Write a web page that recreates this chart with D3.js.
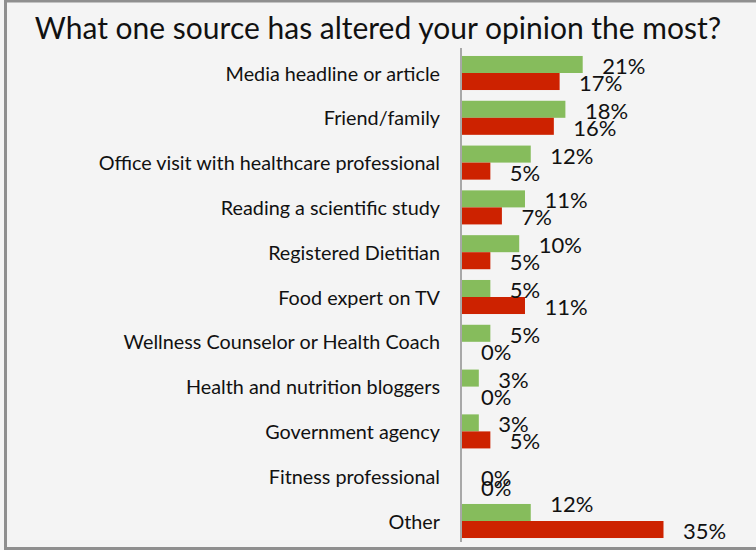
<!DOCTYPE html>
<html>
<head>
<meta charset="utf-8">
<script src="https://cdn.jsdelivr.net/npm/d3@7"></script>
<style>
  html, body { margin: 0; padding: 0; background: #f4f4f4; }
  svg { display: block; }
</style>
</head>
<body>
<svg id="chart" width="756" height="550"></svg>
<script>
// Survey answers: which source changed the respondent's opinion most
const categories = [
  "Media headline or article",
  "Friend/family",
  "Office visit with healthcare professional",
  "Reading a scientific study",
  "Registered Dietitian",
  "Food expert on TV",
  "Wellness Counselor or Health Coach",
  "Health and nutrition bloggers",
  "Government agency",
  "Fitness professional",
  "Other"
];
const seriesNames = ["green", "red"];
const greenValues = [21, 18, 12, 11, 10, 5, 5, 3, 3, 0, 12];
const redValues   = [17, 16, 5, 7, 5, 11, 0, 0, 5, 0, 35];
const titleText = "What one source has altered your opinion the most?";

const colors = { green: "#86bc5c", red: "#cd2200" };
const font = "Lato, 'Open Sans', sans-serif";

const W = 756, H = 550;
const svg = d3.select("#chart");

svg.append("rect").attr("x", 0).attr("y", 0).attr("width", W).attr("height", H).attr("fill", "#f4f4f4");
// frame (open on the right side)
svg.append("rect")
  .attr("x", 5.5).attr("y", 1).attr("width", 800).attr("height", 547.5)
  .attr("fill", "#f4f4f4").attr("stroke", "#8f8f8f").attr("stroke-width", 3);

// title
svg.append("text")
  .attr("x", 378).attr("y", 38.5)
  .attr("text-anchor", "middle")
  .attr("font-family", font).attr("font-size", 30)
  .attr("fill", "#111")
  .text(titleText);

const x0 = 461.5;
const x = d3.scaleLinear().domain([0, 35]).range([x0, x0 + 202]);

const y = d3.scaleBand()
  .domain(categories)
  .range([50.6, 543.4])
  .paddingInner(0.24)
  .paddingOuter(0.12);

const ySub = d3.scaleBand().domain(seriesNames).range([0, y.bandwidth()]);

const rows = categories.map((c, i) => ({
  cat: c,
  vals: [
    { cat: c, key: "green", value: greenValues[i] },
    { cat: c, key: "red", value: redValues[i] }
  ]
}));

// hand-placed value labels that were moved off their default spot
const labelNudge = {
  "Fitness professional|green": 9,
  "Fitness professional|red": 2,
  "Other|green": -10
};

// category labels
svg.append("g").selectAll("text")
  .data(categories)
  .join("text")
  .attr("x", 440)
  .attr("y", d => y(d) + y.bandwidth() / 2 + 7.5)
  .attr("text-anchor", "end")
  .attr("font-family", font).attr("font-size", 19.8)
  .attr("fill", "#111")
  .text(d => d);

const groups = svg.append("g").selectAll("g")
  .data(rows)
  .join("g")
  .attr("transform", d => `translate(0,${y(d.cat)})`);

groups.selectAll("rect")
  .data(d => d.vals)
  .join("rect")
  .attr("x", x(0))
  .attr("y", d => ySub(d.key))
  .attr("width", d => x(d.value) - x(0))
  .attr("height", ySub.bandwidth())
  .attr("fill", d => colors[d.key]);

groups.selectAll("text")
  .data(d => d.vals)
  .join("text")
  .attr("x", d => x(d.value) + 19.5)
  .attr("y", d => ySub(d.key) + ySub.bandwidth() / 2 + 9.5 + (labelNudge[d.cat + "|" + d.key] || 0))
  .attr("font-family", font).attr("font-size", 22)
  .attr("fill", "#111")
  .text(d => d.value + "%");

// vertical category axis line
svg.append("line")
  .attr("x1", x0 - 0.5).attr("x2", x0 - 0.5)
  .attr("y1", 48).attr("y2", 542)
  .attr("stroke", "#a8a8a8").attr("stroke-width", 2);
</script>
</body>
</html>
